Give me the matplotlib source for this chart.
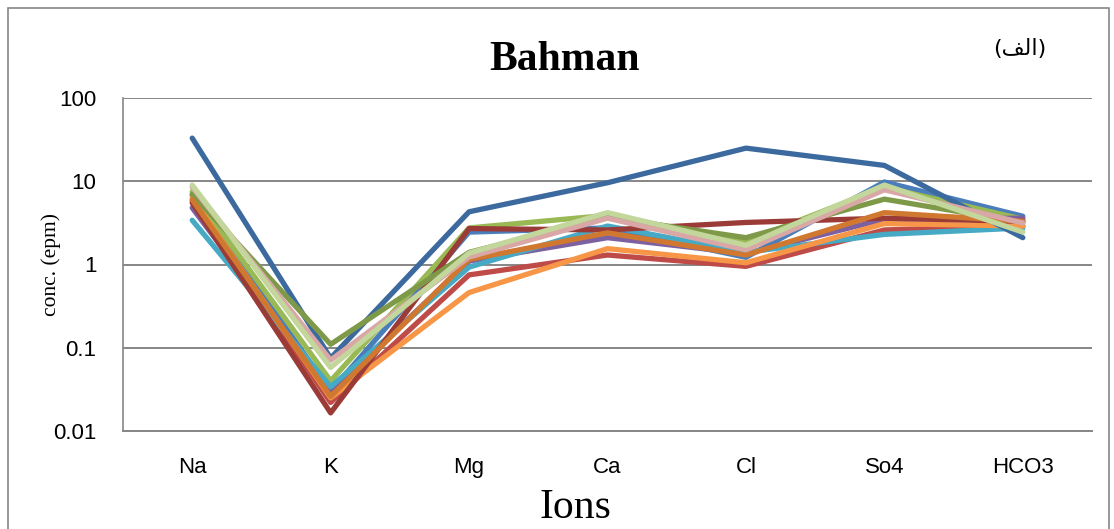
import matplotlib
matplotlib.use("Agg")
import matplotlib.pyplot as plt
from matplotlib.patches import Rectangle

# ions on the x axis
ions = ["Na", "K", "Mg", "Ca", "Cl", "So4", "HCO3"]

# concentrations (epm) per sample
s_blue = [6.8, 0.030, 2.45, 2.75, 1.22, 9.8, 3.8]
s_red = [5.8, 0.022, 0.75, 1.30, 0.95, 2.6, 2.9]
s_green = [7.5, 0.040, 2.75, 3.90, 1.90, 8.5, 3.5]
s_purple = [4.8, 0.029, 1.10, 2.10, 1.35, 3.5, 3.6]
s_aqua = [3.4, 0.034, 0.93, 2.90, 1.40, 2.3, 2.75]
s_orange = [6.3, 0.025, 0.46, 1.55, 1.05, 3.1, 2.9]
s_darkblue = [33.0, 0.075, 4.3, 9.6, 25.0, 15.5, 2.1]
s_darkred = [5.5, 0.0165, 2.7, 2.6, 3.2, 3.6, 3.3]
s_olive = [7.0, 0.110, 1.40, 3.70, 2.10, 6.1, 3.2]
s_darkorange = [6.0, 0.026, 1.15, 2.40, 1.30, 4.2, 3.3]
s_pink = [8.5, 0.071, 1.23, 3.60, 1.50, 7.9, 3.15]
s_lightgreen = [9.0, 0.058, 1.37, 4.20, 1.70, 9.0, 2.45]

series = [s_blue, s_red, s_green, s_purple, s_aqua, s_orange,
          s_darkblue, s_darkred, s_olive, s_darkorange, s_pink, s_lightgreen]
colors = ["#4A7EBB", "#BE4B48", "#98B954", "#7D60A0", "#46AAC5", "#F79646",
          "#3C6A9E", "#9B3B38", "#7E9A48", "#D0782F", "#D8A7A6", "#C3D69B"]

fig = plt.figure(figsize=(11.14, 5.29), dpi=100)
ax = fig.add_axes([0.1104, 0.1853, 0.8699, 0.6294])

x = list(range(len(ions)))
for vals, col in zip(series, colors):
    ax.plot(x, vals, color=col, lw=3.8, solid_joinstyle="round", solid_capstyle="round")

ax.set_yscale("log")
ax.set_ylim(0.01, 100)
ax.set_xlim(-0.5, len(ions) - 0.5)
ax.set_yticks([0.01, 0.1, 1, 10, 100])
ax.set_yticklabels(["0.01", "0.1", "1", "10", "100"], family="Liberation Sans", fontsize=16)
ax.minorticks_off()
ax.set_xticks(x)
ax.set_xticklabels(ions, family="Liberation Sans", fontsize=16)
ax.tick_params(axis="both", length=0)
ax.tick_params(axis="y", pad=19)
ax.tick_params(axis="x", pad=19)

ax.yaxis.grid(True, color="#868686", lw=1.4)
ax.set_axisbelow(True)
for side in ["top", "right"]:
    ax.spines[side].set_visible(False)
ax.spines["left"].set_color("#868686")
ax.spines["bottom"].set_color("#868686")
ax.spines["left"].set_linewidth(1.2)
ax.spines["bottom"].set_linewidth(1.4)

ax.set_ylabel("conc. (epm)", family="Liberation Serif", fontsize=15.5)
ax.yaxis.set_label_coords(-0.064, 0.5)
fig.text(0.5165, 0.04, "Ions", family="Liberation Serif", fontsize=30, ha="center", va="center")
fig.text(0.507, 0.886, "Bahman", family="Liberation Serif", fontsize=30, weight="bold",
         ha="center", va="center")
# Arabic "(الف)" written with presentation forms so it shows joined, right to left
fig.text(0.915, 0.907, "(\uFED2\uFEDF\uFE8D)", family="DejaVu Sans", fontsize=16,
         ha="center", va="center")

fig.patches.append(Rectangle((8 / 1114, -0.05), 1101 / 1114, 1.05 - 8 / 529,
                             transform=fig.transFigure, fill=False,
                             edgecolor="#868686", lw=1.2))

fig.savefig("out.png", dpi=100)
